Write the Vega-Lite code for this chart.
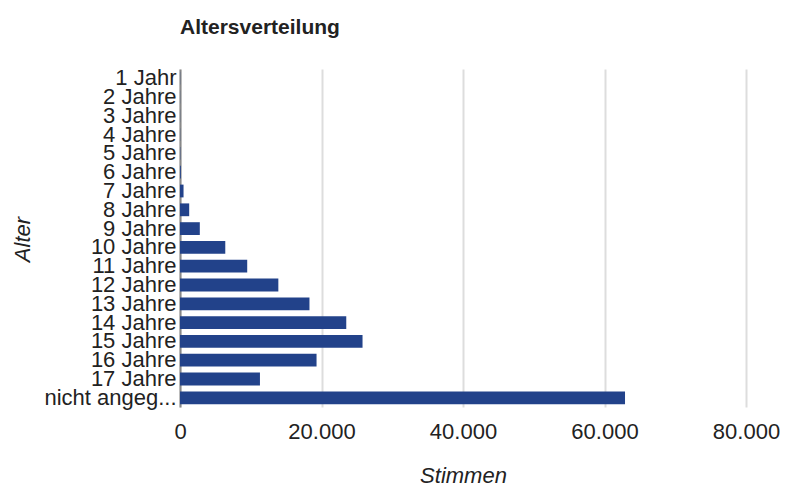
{
  "$schema": "https://vega.github.io/schema/vega-lite/v6.json",
  "width": 566,
  "height": 338,
  "autosize": "none",
  "padding": {"left": 180, "top": 69, "right": 39, "bottom": 79},
  "background": "white",
  "title": {
    "text": "Altersverteilung",
    "anchor": "start",
    "frame": "group",
    "font": "Liberation Sans",
    "fontSize": 21,
    "fontWeight": "bold",
    "color": "#222222",
    "baseline": "alphabetic",
    "offset": 12
  },
  "config": {
    "view": {"stroke": null},
    "font": "Liberation Sans"
  },
  "data": {
    "values": [
      {"Alter": "1 Jahr", "Stimmen": 20},
      {"Alter": "2 Jahre", "Stimmen": 15},
      {"Alter": "3 Jahre", "Stimmen": 15},
      {"Alter": "4 Jahre", "Stimmen": 20},
      {"Alter": "5 Jahre", "Stimmen": 40},
      {"Alter": "6 Jahre", "Stimmen": 120},
      {"Alter": "7 Jahre", "Stimmen": 500},
      {"Alter": "8 Jahre", "Stimmen": 1300},
      {"Alter": "9 Jahre", "Stimmen": 2800},
      {"Alter": "10 Jahre", "Stimmen": 6400},
      {"Alter": "11 Jahre", "Stimmen": 9500},
      {"Alter": "12 Jahre", "Stimmen": 13900},
      {"Alter": "13 Jahre", "Stimmen": 18300},
      {"Alter": "14 Jahre", "Stimmen": 23500},
      {"Alter": "15 Jahre", "Stimmen": 25800},
      {"Alter": "16 Jahre", "Stimmen": 19300},
      {"Alter": "17 Jahre", "Stimmen": 11300},
      {"Alter": "nicht angeg...", "Stimmen": 62900}
    ]
  },
  "mark": {"type": "bar", "color": "#22428a"},
  "encoding": {
    "y": {
      "field": "Alter",
      "type": "nominal",
      "sort": null,
      "scale": {"paddingInner": 0.32, "paddingOuter": 0.15},
      "axis": {
        "title": "Alter",
        "titleFont": "Liberation Sans",
        "titleFontSize": 22,
        "titleFontStyle": "italic",
        "titleFontWeight": "normal",
        "titleColor": "#222222",
        "titleAngle": -90,
        "titleAlign": "center",
        "titleBaseline": "middle",
        "titleX": -158,
        "titleY": 170,
        "labelFont": "Liberation Sans",
        "labelFontSize": 22,
        "labelColor": "#222222",
        "labelPadding": 4,
        "labelLimit": 200,
        "ticks": false,
        "domain": true,
        "domainColor": "#888888",
        "domainWidth": 2,
        "grid": false
      }
    },
    "x": {
      "field": "Stimmen",
      "type": "quantitative",
      "scale": {"domain": [0, 80000], "nice": false},
      "axis": {
        "title": "Stimmen",
        "titleFont": "Liberation Sans",
        "titleFontSize": 22,
        "titleFontStyle": "italic",
        "titleFontWeight": "normal",
        "titleColor": "#222222",
        "titlePadding": 23,
        "values": [0, 20000, 40000, 60000, 80000],
        "labelExpr": "replace(format(datum.value, ',d'), ',', '.')",
        "labelFont": "Liberation Sans",
        "labelFontSize": 22,
        "labelColor": "#222222",
        "labelPadding": 14,
        "labelFlush": false,
        "labelOverlap": false,
        "ticks": false,
        "domain": false,
        "grid": true,
        "gridColor": "#dddddd",
        "gridWidth": 2
      }
    }
  }
}
